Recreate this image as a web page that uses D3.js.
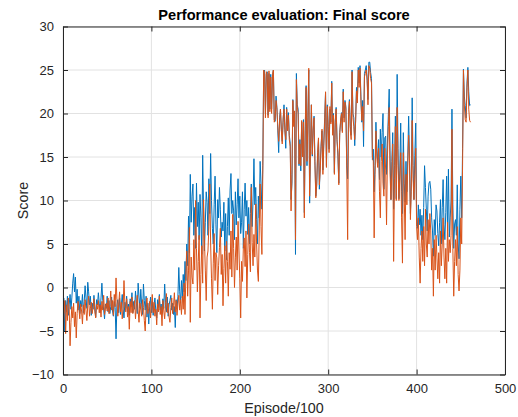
<!DOCTYPE html>
<html>
<head>
<meta charset="utf-8">
<script src="https://cdn.jsdelivr.net/npm/d3@7"></script>
<style>
html,body{margin:0;padding:0;background:#fff;}
svg{display:block;font-family:"Liberation Sans",Arial,Helvetica,sans-serif;}
</style>
</head>
<body>
<svg id="chart" width="518" height="417"></svg>
<script>
// ---- data ----
const title = "Performance evaluation: Final score";
const xLabel = "Episode/100";
const yLabel = "Score";
const xTicks = [0, 100, 200, 300, 400, 500];
const yTicks = [-10, -5, 0, 5, 10, 15, 20, 25, 30];
const xDomain = [0, 500];
const yDomain = [-10, 30];

// series 1 (blue), one value per episode starting at 1
const seriesBlue = [
// 1-135
-1.2,-5.0,-1.5,-2.8,-1.0,-3.2,-2.0,-0.8,-2.5,-1.2,
0.5,1.6,-0.5,1.2,-1.8,-0.2,-2.6,-1.0,-3.0,-1.5,
-2.2,-0.8,-2.9,-1.6,0.2,-1.2,-2.4,0.6,-0.5,-2.0,
-1.0,-3.2,-1.8,-2.5,-0.9,-2.2,-3.4,-1.4,-2.0,-0.6,
-1.8,-2.9,-1.2,0.5,-1.5,-2.6,-3.6,-1.9,-2.4,-1.0,
-2.8,-1.5,-3.0,-2.2,-1.1,-2.7,-3.3,-1.6,-2.3,-5.9,
-2.0,-1.4,-2.9,-1.2,-3.1,-2.0,-0.8,-2.5,-3.5,-1.7,
-2.4,-1.0,-2.8,-1.9,-3.2,-1.3,-2.2,-0.6,-2.9,-1.6,
-2.5,-0.4,-1.8,-3.0,0.5,-1.1,-2.4,-0.2,-2.0,-3.1,
0.4,-1.5,-2.6,-1.0,-3.4,-1.8,-4.2,-2.2,-1.1,-2.9,
-1.6,-3.2,-2.0,-1.2,-2.7,-3.5,-1.4,-2.3,-0.8,-2.6,
-1.9,-3.0,-1.3,-2.4,0.4,-1.7,-2.8,-1.1,-3.3,-2.0,
-1.5,-0.9,-2.6,-1.8,-3.1,-2.2,-4.6,-1.4,-2.5,-1.0,
2.3,-0.5,-1.8,0.8,-1.2,
// 136-225
1.5,-0.5,3.0,0.8,5.0,2.5,8.2,4.0,13.0,7.5,
10.5,11.9,6.0,9.2,4.5,12.0,7.0,9.8,5.5,10.7,
8.0,3.8,15.2,9.0,4.2,7.5,11.0,9.8,6.0,12.5,
8.5,15.4,10.0,6.8,5.0,9.5,12.8,7.2,4.0,10.1,
8.0,11.5,9.0,5.8,7.5,6.5,9.8,4.2,8.5,3.2,
7.0,10.3,6.0,11.2,13.1,8.5,10.0,8.8,5.5,11.0,
7.2,9.5,12.5,8.0,10.5,6.2,7.5,11.0,4.5,9.0,
12.0,8.2,10.0,6.1,9.2,5.0,8.5,11.9,7.0,10.0,
14.8,9.5,11.5,7.8,5.0,10.5,8.0,14.5,12.0,9.0,
// 226-350
14.0,24.8,25.0,20.0,24.5,24.8,19.8,24.6,20.5,24.5,
20.5,24.2,25.0,19.3,19.1,22.0,20.7,18.0,15.5,19.5,
20.5,18.2,16.8,19.0,21.0,18.2,16.0,20.7,18.5,20.1,
17.5,16.6,10.1,12.0,21.6,19.0,20.0,3.8,24.6,21.0,
20.5,14.0,17.0,13.4,19.0,15.5,19.3,8.6,18.0,23.2,
14.0,19.5,25.0,9.7,16.0,21.0,15.1,18.0,19.7,14.5,
10.5,11.7,15.0,17.0,11.3,14.0,16.5,18.0,13.5,16.6,
19.5,22.4,14.0,21.0,18.5,15.9,20.5,19.0,23.7,17.8,
20.0,13.2,19.0,20.7,17.0,15.1,12.0,17.8,19.0,20.1,
18.0,22.8,19.5,21.5,20.8,14.0,12.5,20.1,21.6,18.5,
17.5,25.0,20.0,19.5,16.3,19.2,23.0,21.6,25.3,23.5,
25.5,22.0,19.0,21.5,16.2,24.6,25.0,25.5,24.2,21.6,
25.9,25.9,24.7,24.0,14.7,
// 351-461
15.9,11.0,14.0,19.0,16.0,14.3,17.0,12.4,18.2,15.0,
17.8,20.0,11.3,17.2,17.4,13.0,16.5,19.7,22.8,15.0,
10.1,14.5,17.8,9.0,14.0,19.7,10.2,24.5,16.0,10.2,
13.5,18.9,11.0,8.5,17.8,12.0,9.8,14.5,11.0,15.0,
19.7,14.8,8.5,12.0,21.8,14.0,10.1,15.2,18.9,8.0,
6.8,9.5,7.2,9.0,6.0,8.3,5.5,9.2,14.0,11.5,
9.0,6.5,10.5,12.0,12.2,11.3,8.0,6.5,3.6,7.8,
6.0,9.5,8.8,6.2,4.8,7.5,10.1,5.0,9.2,12.4,
7.2,5.5,8.6,12.8,6.5,13.6,5.8,8.0,10.0,20.5,
9.5,4.5,7.3,7.8,6.0,11.8,5.0,3.3,9.0,12.8,
8.0,16.0,25.1,22.0,20.9,19.5,23.5,25.3,22.5,20.9,
21.0
];

// series 2 (orange)
const seriesOrange = [
// 1-135
-3.0,-1.5,-5.3,-2.0,-3.8,-1.2,-2.5,-6.7,-4.0,-2.2,
-3.5,-1.8,-4.5,-2.8,-5.8,-3.0,-1.6,-2.4,-3.6,-1.9,
-2.7,-4.2,-2.0,-3.1,-1.4,-2.6,-3.8,-2.1,-1.0,-3.3,
-2.4,-1.7,-3.0,-2.2,-1.3,-2.8,-3.5,-1.9,-2.5,-1.5,
-2.9,-2.0,-3.4,-1.6,-2.6,-0.9,-3.1,-2.3,-1.8,-2.7,
-1.2,-3.0,-2.1,-0.4,-2.6,-1.5,-3.2,-0.8,-2.2,1.1,
-1.4,-3.3,-2.0,-0.5,-2.8,-1.7,-3.6,-2.4,0.8,-1.9,
-2.8,-1.3,-3.4,-2.2,-4.8,-1.6,-2.9,-1.1,-3.0,-2.4,
-1.5,-3.6,-2.0,-0.9,-2.7,-4.0,-1.8,-2.6,-3.3,-1.4,
-2.3,-3.8,-5.0,-2.1,-1.2,-3.0,-2.4,-1.6,-3.5,-2.2,
-0.8,-2.9,-1.7,-3.3,-2.5,-4.3,-1.9,-2.8,-1.0,-3.1,
-2.2,-4.4,-1.5,-2.7,-3.6,-2.0,-0.7,-2.9,-1.8,-3.4,
-4.0,-2.3,-1.2,-3.0,-2.1,-0.6,-2.8,-1.5,-3.2,-1.9,
-0.9,-2.6,-1.4,-3.1,-1.0,
// 136-225
-2.5,0.5,-3.1,1.5,4.2,-1.0,2.0,6.9,-4.0,3.5,
1.2,0.4,5.5,2.0,10.0,4.5,-0.5,3.0,6.0,-3.5,
1.5,4.8,0.5,10.1,5.5,2.0,-1.5,3.5,4.2,7.0,
11.9,5.0,1.0,-2.5,2.8,6.2,0.8,4.0,3.4,-0.8,
2.5,4.6,6.8,1.5,3.8,-2.1,2.2,4.8,0.5,5.3,
3.0,-1.0,4.0,2.1,6.5,1.2,8.4,4.5,0.0,3.4,
5.8,2.0,7.6,4.2,1.0,-3.5,3.0,0.7,4.5,5.7,
2.4,6.5,-1.2,3.8,7.3,4.0,1.8,11.5,5.2,2.5,
6.1,3.5,9.6,5.0,2.0,0.7,6.5,11.9,7.0,3.8,
// 226-350
13.0,25.0,24.6,19.5,24.8,24.5,19.5,24.9,20.2,24.2,
20.0,24.5,25.0,19.0,19.4,21.5,20.5,18.5,16.8,19.0,
20.5,18.0,16.5,19.5,20.5,18.0,17.0,20.5,18.0,19.8,
17.0,16.2,8.8,13.0,21.5,18.5,20.3,5.5,23.9,20.8,
20.0,14.2,16.5,14.0,19.2,15.0,19.0,8.0,18.5,23.0,
14.5,19.0,25.2,10.5,15.5,21.0,15.3,18.2,19.5,14.0,
10.3,12.0,15.5,17.2,11.8,13.5,16.2,18.2,13.0,16.3,
19.0,22.5,13.8,20.8,18.2,15.5,20.8,18.8,23.5,17.5,
19.8,13.0,19.2,20.5,16.8,15.5,11.8,17.5,19.2,20.0,
17.8,22.5,19.0,21.3,20.5,13.5,5.5,20.0,21.4,18.0,
17.0,24.8,19.5,18.5,17.0,19.0,22.6,21.2,25.0,23.0,
25.2,21.5,19.2,20.8,18.0,24.2,24.6,25.0,23.8,21.0,
25.5,25.2,24.0,23.5,15.0,
// 351-461
14.5,5.7,13.0,18.0,15.0,13.8,16.0,11.0,8.0,14.5,
16.5,12.0,10.5,16.0,13.5,7.2,15.0,18.5,20.7,13.0,
10.1,13.5,16.5,3.0,12.5,18.5,10.0,20.7,14.0,10.0,
12.5,15.5,8.0,2.8,15.5,10.5,5.5,13.0,9.5,14.0,
17.5,14.5,7.8,11.0,19.2,12.5,10.1,13.0,16.0,7.0,
5.5,8.0,3.5,0.5,4.5,6.5,3.0,7.0,2.5,9.0,
5.0,3.5,7.8,5.0,8.5,6.5,2.0,4.5,-1.0,5.5,
2.0,6.0,3.5,1.0,4.0,0.5,6.5,2.5,5.0,8.0,
3.5,1.0,4.5,0.5,7.5,3.0,5.5,4.0,6.0,18.2,
4.5,-1.0,3.0,5.5,2.5,7.0,1.5,-0.4,2.0,8.0,
5.0,14.0,25.0,21.0,19.3,19.0,23.0,25.0,20.5,19.2,
19.0
];

const colors = ["#0072BD", "#D95319"];

// ---- layout ----
const W = 518, H = 417;
const pLeft = 63, pRight = 505, pTop = 26.5, pBottom = 374.5;

const svg = d3.select("#chart");
const x = d3.scaleLinear().domain(xDomain).range([pLeft, pRight]);
const y = d3.scaleLinear().domain(yDomain).range([pBottom, pTop]);

// grid
const grid = svg.append("g");
grid.selectAll(".gx").data(xTicks).join("line")
  .attr("x1", d => x(d)).attr("x2", d => x(d))
  .attr("y1", pTop).attr("y2", pBottom)
  .attr("stroke", "#e2e2e2").attr("stroke-width", 1);
grid.selectAll(".gy").data(yTicks).join("line")
  .attr("x1", pLeft).attr("x2", pRight)
  .attr("y1", d => y(d)).attr("y2", d => y(d))
  .attr("stroke", "#e2e2e2").attr("stroke-width", 1);

// clip
svg.append("clipPath").attr("id", "clip").append("rect")
  .attr("x", pLeft).attr("y", pTop).attr("width", pRight - pLeft).attr("height", pBottom - pTop);

const line = d3.line().x((d, i) => x(i + 1)).y(d => y(d));
const plot = svg.append("g").attr("clip-path", "url(#clip)");
[seriesBlue, seriesOrange].forEach((s, k) => {
  plot.append("path").datum(s)
    .attr("d", line)
    .attr("fill", "none")
    .attr("stroke", colors[k])
    .attr("stroke-width", 1)
    .attr("stroke-linejoin", "round");
});

// axes
const axColor = "#262626";
const fmt = d3.format("d");
const gB = svg.append("g").attr("transform", `translate(0,${pBottom})`)
  .call(d3.axisBottom(x).tickValues(xTicks).tickFormat(fmt).tickSizeInner(-5).tickSizeOuter(0).tickPadding(9));
const gL = svg.append("g").attr("transform", `translate(${pLeft},0)`)
  .call(d3.axisLeft(y).tickValues(yTicks).tickFormat(fmt).tickSizeInner(-5).tickSizeOuter(0).tickPadding(9));
const gT = svg.append("g").attr("transform", `translate(0,${pTop})`)
  .call(d3.axisTop(x).tickValues(xTicks).tickFormat("").tickSizeInner(-5).tickSizeOuter(0));
const gR = svg.append("g").attr("transform", `translate(${pRight},0)`)
  .call(d3.axisRight(y).tickValues(yTicks).tickFormat("").tickSizeInner(-5).tickSizeOuter(0));

[gB, gL, gT, gR].forEach(g => {
  g.selectAll("path.domain").attr("stroke", axColor).attr("stroke-width", 1);
  g.selectAll(".tick line").attr("stroke", axColor).attr("stroke-width", 1);
  g.selectAll(".tick text").attr("fill", axColor).style("font-size", "13px")
    .style("font-family", '"Liberation Sans", Arial, Helvetica, sans-serif');
});

// title and labels
svg.append("text").attr("x", (pLeft + pRight) / 2).attr("y", 19.5)
  .attr("text-anchor", "middle").attr("font-weight", "bold")
  .style("font-size", "14.6px").attr("fill", "#000").text(title);
svg.append("text").attr("x", (pLeft + pRight) / 2).attr("y", 413)
  .attr("text-anchor", "middle").style("font-size", "14.3px").attr("fill", axColor).text(xLabel);
svg.append("text").attr("transform", `translate(28,${(pTop + pBottom) / 2}) rotate(-90)`)
  .attr("text-anchor", "middle").style("font-size", "14.3px").attr("fill", axColor).text(yLabel);
</script>
</body>
</html>
